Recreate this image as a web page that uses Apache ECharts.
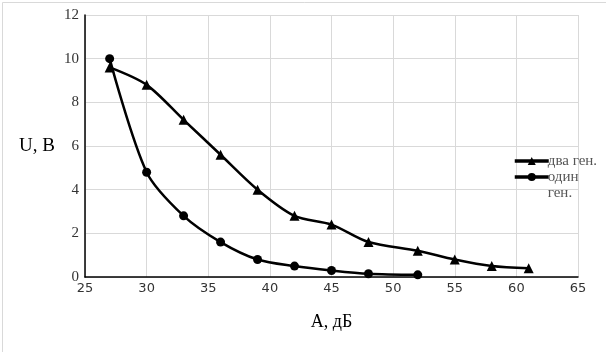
<!DOCTYPE html>
<html><head><meta charset="utf-8">
<script src="https://cdn.jsdelivr.net/npm/echarts@6/dist/echarts.min.js"></script>
<style>html,body{margin:0;padding:0;background:#fff}#c{width:606px;height:352px}</style>
</head><body><div id="c"></div>
<script>
var twoGenA = [27, 30, 33, 36, 39, 42, 45, 48, 52, 55, 58, 61];
var twoGenU = [9.6, 8.8, 7.2, 5.6, 4.0, 2.8, 2.4, 1.6, 1.2, 0.8, 0.5, 0.4];
var oneGenA = [27, 30, 33, 36, 39, 42, 45, 48, 52];
var oneGenU = [10, 4.8, 2.8, 1.6, 0.8, 0.5, 0.3, 0.15, 0.1];
var seriesNames = ['два ген.', 'один\nген.'];
var xAxisName = 'A, дБ';
var yAxisName = 'U, B';

function pairs(a, b) { return a.map(function (v, i) { return [v, b[i]]; }); }

var legendBase = {
  orient: 'vertical', left: 508, itemWidth: 34, itemHeight: 10, itemGap: 0,
  lineStyle: {width: 3.5},
  textStyle: {color: '#555', fontFamily: 'Liberation Serif', fontSize: 15, lineHeight: 16, padding: [0, 0, 0, -6]}
};

var chart = echarts.init(document.getElementById('c'), null, {renderer: 'canvas'});
chart.setOption({
  animation: false,
  backgroundColor: '#fff',
  graphic: [{type: 'rect', left: 0, top: 0, shape: {x: 0.5, y: 0.5, width: 605, height: 351}, style: {fill: 'none', stroke: '#d9d9d9', lineWidth: 1}, z: -1}],
  grid: {left: 85, right: 28, top: 15, bottom: 75, containLabel: false},
  xAxis: {
    type: 'value', min: 25, max: 65, interval: 5,
    axisLine: {show: true, lineStyle: {color: '#000', width: 1.5}},
    axisTick: {show: false},
    splitLine: {show: true, lineStyle: {color: '#d9d9d9', width: 1}},
    axisLabel: {color: '#333', fontFamily: 'DejaVu Sans', fontSize: 13, margin: 5},
    name: xAxisName, nameLocation: 'middle', nameGap: 36,
    nameTextStyle: {color: '#000', fontFamily: 'Liberation Serif', fontSize: 18}
  },
  yAxis: {
    type: 'value', min: 0, max: 12, interval: 2,
    axisLine: {show: true, lineStyle: {color: '#000', width: 1.5}},
    axisTick: {show: false},
    splitLine: {show: true, lineStyle: {color: '#d9d9d9', width: 1}},
    axisLabel: {color: '#333', fontFamily: 'Liberation Serif', fontSize: 15, margin: 6},
    name: yAxisName, nameLocation: 'middle', nameGap: 30, nameRotate: 0,
    nameTextStyle: {color: '#000', fontFamily: 'Liberation Serif', fontSize: 19}
  },
  legend: [
    Object.assign({}, legendBase, {top: 148, data: [seriesNames[0]]}),
    Object.assign({}, legendBase, {top: 148, data: [seriesNames[1]], formatter: function (n) { return '\n' + n; }})
  ],
  series: [
    {name: seriesNames[0], type: 'line', smooth: 0.3, data: pairs(twoGenA, twoGenU),
     symbol: 'triangle', symbolSize: 10, color: '#000',
     lineStyle: {color: '#000', width: 2.5}, itemStyle: {color: '#000'}},
    {name: seriesNames[1], type: 'line', smooth: 0.3, data: pairs(oneGenA, oneGenU),
     symbol: 'circle', symbolSize: 9, color: '#000',
     lineStyle: {color: '#000', width: 2.5}, itemStyle: {color: '#000'}}
  ]
});
</script></body></html>
